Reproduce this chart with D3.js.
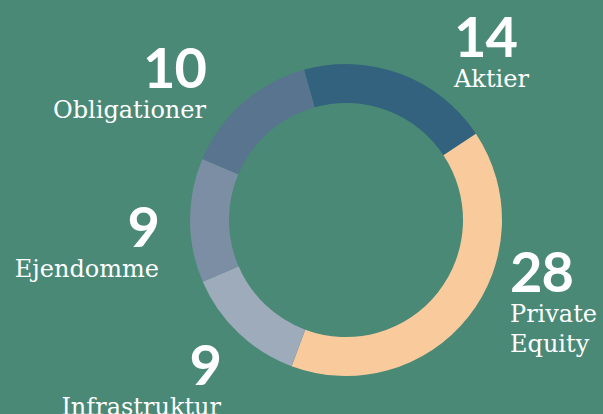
<!DOCTYPE html>
<html>
<head>
<meta charset="utf-8">
<script src="https://cdn.jsdelivr.net/npm/d3@7"></script>
<style>
	html, body { margin: 0; padding: 0; background: #498976; }
	svg { display: block; }
	.num { font-family: Lato, sans-serif; font-weight: 700; fill: #fff; }
	.name { font-family: "DejaVu Serif", serif; fill: #fff; }
</style>
</head>
<body>
<svg id="chart"></svg>
<script>
var categories = ["Aktier", "Private Equity", "Infrastruktur", "Ejendomme", "Obligationer"];
var values = [14, 28, 9, 9, 10];
var colors = ["#32627d", "#f9cb9c", "#9eabba", "#7b8ea4", "#58748e"];

// where each label sits (x, y of the number baseline) and how it is aligned
var labelPos = [
	{ x: 454, y: 57, anchor: "start" },
	{ x: 510, y: 292, anchor: "start" },
	{ x: 221, y: 385, anchor: "end" },
	{ x: 159, y: 247, anchor: "end" },
	{ x: 206, y: 88, anchor: "end" }
];

var width = 603, height = 414;
var cx = 346, cy = 220;
var outerR = 156, innerR = 117;
var startAngle = -15.6 * Math.PI / 180;

var svg = d3.select("#chart")
	.attr("width", width)
	.attr("height", height);

var data = categories.map(function(c, i) {
	return { name: c, value: values[i], color: colors[i], pos: labelPos[i] };
});

var pie = d3.pie()
	.sort(null)
	.value(function(d) { return d.value; })
	.startAngle(startAngle)
	.endAngle(startAngle + 2 * Math.PI);

var arc = d3.arc()
	.innerRadius(innerR)
	.outerRadius(outerR);

svg.append("g")
	.attr("transform", "translate(" + cx + "," + cy + ")")
	.selectAll("path")
	.data(pie(data))
	.enter()
	.append("path")
	.attr("d", arc)
	.attr("fill", function(d) { return d.data.color; });

var labels = svg.selectAll("g.label")
	.data(data)
	.enter()
	.append("g")
	.attr("class", "label")
	.attr("transform", function(d) { return "translate(" + d.pos.x + "," + d.pos.y + ")"; })
	.attr("text-anchor", function(d) { return d.pos.anchor; });

labels.append("text")
	.attr("class", "num")
	.attr("font-size", 56)
	.attr("letter-spacing", -1)
	.text(function(d) { return d.value; });

labels.each(function(d) {
	var words = d.name == "Private Equity" ? ["Private", "Equity"] : [d.name];
	var g = d3.select(this);
	words.forEach(function(w, i) {
		g.append("text")
			.attr("class", "name")
			.attr("font-size", 24)
			.attr("y", 30 + i * 30)
			.text(w);
	});
});
</script>
</body>
</html>
